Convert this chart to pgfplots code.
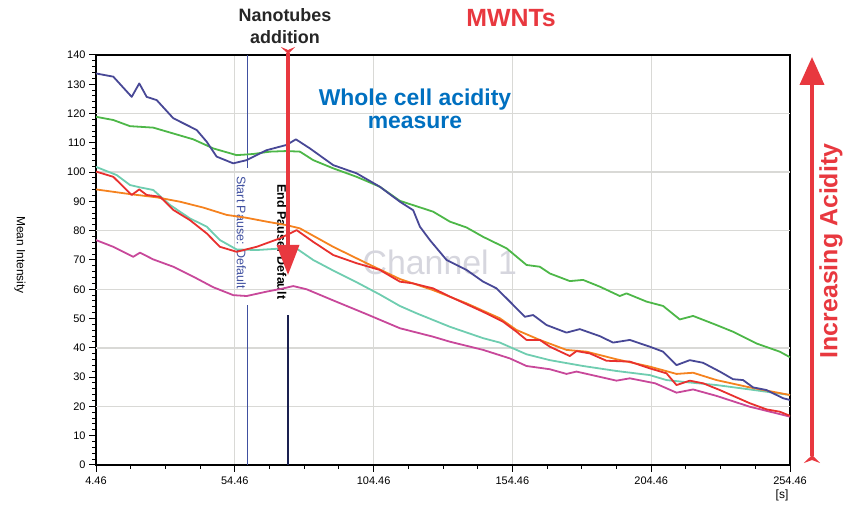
\documentclass[border=0pt]{standalone}
\usepackage{pgfplots}
\pgfplotsset{compat=1.18}
\usepackage{fontspec}
\setmainfont{Liberation Sans}
\usetikzlibrary{arrows.meta}

\definecolor{cNavy}{RGB}{72,72,150}
\definecolor{cGreen}{RGB}{77,183,72}
\definecolor{cTeal}{RGB}{111,205,176}
\definecolor{cRed}{RGB}{232,48,46}
\definecolor{cOrange}{RGB}{245,130,31}
\definecolor{cMagenta}{RGB}{200,72,154}
\definecolor{annRed}{RGB}{232,56,63}
\definecolor{annBlue}{RGB}{0,112,192}
\definecolor{pauseBlue}{RGB}{64,80,160}
\definecolor{pauseDark}{RGB}{26,32,80}
\definecolor{gridGray}{RGB}{217,217,214}
\definecolor{markGray}{RGB}{214,214,222}

\begin{document}
\begin{tikzpicture}
\useasboundingbox (0,0) rectangle (857bp,512bp);
\begin{axis}[
  at={(96bp,47bp)}, anchor=south west,
  scale only axis, width=694bp, height=410bp,
  xmin=4.46, xmax=254.46, ymin=0, ymax=140,
  xtick={4.46,54.46,104.46,154.46,204.46,254.46},
  xticklabels={4.46,54.46,104.46,154.46,204.46,254.46},
  minor x tick num=3,
  ytick={0,10,...,140},
  minor y tick num=4,
  tick pos=left, tick align=outside,
  major tick length=7bp, minor tick length=4bp,
  every tick/.style={black, line width=1bp},
  xmajorgrids=true,
  grid style={gridGray, line width=1.3bp},
  extra y ticks={20,40,60,80,100,120},
  extra y tick labels={,,,,,},
  extra y tick style={grid=major, major tick length=0pt},
  axis line style={black, line width=1.4bp},
  /pgf/number format/assume math mode=true,
  ticklabel style={font=\fontsize{11}{13}\selectfont},
  xticklabel style={yshift=-1bp},
  every axis plot/.append style={line width=1.8bp, line join=round},
]
% faint channel watermark
\node[markGray, font=\fontsize{34}{40}\selectfont] at (axis cs:128.3,69.3) {Channel 1};

% pause markers
\draw[pauseBlue, line width=0.8bp] (axis cs:59.1,140) -- (axis cs:59.1,101.4);
\draw[pauseBlue, line width=0.8bp] (axis cs:59.1,54.6) -- (axis cs:59.1,0);
\node[pauseBlue, rotate=-90, font=\fontsize{12.5}{14}\selectfont] at (axis cs:56.8,79.4) {Start Pause: Default};
\draw[pauseDark, line width=2bp] (axis cs:73.6,51.2) -- (axis cs:73.6,0);
\node[black, rotate=-90, font=\bfseries\fontsize{12.5}{14}\selectfont] at (axis cs:71.4,76.2) {End Pause: Default};

\addplot[cGreen] coordinates {
(4.46,118.9) (10.69,117.8) (16.70,115.7) (25.09,115.2) (32.30,113.2) (39.50,111.2)
(46.70,108.1) (55.13,105.8) (61.10,106.2) (67.12,107.0) (73.13,107.2) (77.92,107.0)
(82.71,104.1) (89.91,101.3) (98.34,98.4) (106.73,95.0) (113.93,90.2) (125.92,86.5)
(131.93,83.1) (137.95,81.1) (143.93,77.9) (152.35,74.0) (159.55,68.3) (164.34,67.7)
(167.94,65.4) (175.14,62.8) (179.93,63.2) (185.94,60.9) (193.15,57.7) (195.56,58.6)
(202.76,55.8) (208.75,54.3) (214.76,49.7) (219.55,50.9) (227.97,47.8) (233.95,45.5)
(242.37,41.5) (250.77,38.7) (254.46,36.8)};

\addplot[cTeal] coordinates {
(4.46,101.8) (11.91,99.0) (16.70,95.6) (20.30,94.8) (25.09,93.9) (31.11,88.8)
(38.31,84.2) (44.32,81.4) (49.11,76.8) (55.13,73.6) (62.33,73.4) (70.72,73.9)
(76.73,73.9) (82.71,70.0) (89.91,66.4) (98.34,62.4) (106.73,58.2) (113.93,54.3)
(119.94,51.8) (131.93,47.2) (143.93,43.3) (149.94,41.8) (159.55,37.8) (167.94,35.8)
(179.93,33.8) (191.96,32.1) (203.95,30.7) (209.97,29.0) (215.95,28.4) (227.97,27.3)
(239.96,25.8) (254.46,23.9)};

\addplot[cMagenta] coordinates {
(4.46,76.8) (10.69,74.5) (17.89,71.1) (20.30,72.5) (25.09,70.2) (32.30,67.7)
(40.72,63.7) (46.70,60.7) (53.90,58.0) (58.73,57.7) (65.93,59.2) (71.91,60.3)
(75.51,61.1) (80.33,60.0) (89.91,56.2) (101.94,51.5) (113.93,46.7) (125.92,43.8)
(131.93,42.1) (143.93,39.3) (153.54,36.4) (159.55,33.8) (167.94,32.7) (173.95,31.1)
(177.55,31.9) (185.94,30.1) (191.96,28.8) (196.75,29.6) (205.87,27.9) (213.57,24.7)
(219.55,25.8) (227.97,23.6) (239.96,19.9) (245.98,18.5) (254.46,16.5)};

\addplot[cOrange] coordinates {
(4.46,94.1) (16.70,92.5) (26.32,91.4) (34.71,89.9) (43.10,87.9) (51.52,85.4)
(58.73,84.4) (65.93,83.1) (73.13,81.9) (77.92,80.8) (89.91,74.5) (101.94,68.9)
(113.93,63.5) (125.92,59.7) (137.95,55.2) (149.94,50.1) (155.95,46.1) (164.34,42.7)
(173.95,39.3) (181.15,38.7) (191.96,36.1) (203.95,33.6) (213.57,31.1) (219.55,31.5)
(227.97,29.0) (239.96,26.5) (254.46,23.9)};

\addplot[cRed] coordinates {
(4.46,100.2) (10.69,98.4) (17.32,92.2) (20.05,94.1) (22.72,92.2) (27.51,91.6)
(32.30,87.1) (38.31,83.6) (44.32,79.1) (49.11,74.5) (55.13,72.8) (62.33,74.5)
(70.72,77.4) (76.73,80.2) (82.71,76.2) (89.91,71.7) (98.34,68.9) (106.73,66.6)
(113.93,62.6) (118.72,62.0) (125.92,60.3) (131.93,57.5) (143.93,52.3) (151.13,48.9)
(155.95,45.5) (159.55,42.7) (164.34,42.7) (167.94,40.4) (175.14,37.2) (177.55,38.9)
(182.34,38.1) (188.35,35.6) (196.75,35.3) (203.95,33.0) (209.97,31.3) (213.57,27.3)
(218.36,28.8) (223.15,27.9) (229.16,25.6) (239.96,21.1) (245.98,19.0) (250.77,18.2)
(254.46,16.8)};

\addplot[cNavy] coordinates {
(4.46,133.7) (10.69,132.6) (17.32,125.7) (20.05,130.3) (22.72,125.7) (26.32,124.6)
(32.30,118.4) (40.72,114.4) (44.32,110.4) (47.92,105.3) (53.90,103.0) (58.73,104.1)
(65.93,107.5) (73.13,109.3) (76.48,111.2) (81.52,108.1) (89.91,102.4) (98.34,99.6)
(106.73,95.0) (113.93,89.9) (118.72,87.0) (121.13,81.4) (124.73,76.8) (130.75,70.0)
(137.95,66.6) (143.93,62.6) (148.75,60.3) (153.54,55.8) (158.94,50.6) (161.93,51.2)
(166.75,47.8) (173.95,45.2) (178.74,46.4) (185.94,44.0) (190.73,41.8) (196.75,42.7)
(203.95,40.4) (208.75,38.7) (213.57,34.1) (218.36,35.8) (223.15,34.9) (229.16,31.9)
(233.95,29.3) (237.55,29.0) (241.15,26.5) (245.98,25.6) (251.95,22.8) (254.46,22.2)};
\end{axis}

% annotations around the plot
\node[font=\bfseries\fontsize{18}{22}\selectfont, align=center, text=black!85] at (285bp,486bp) {Nanotubes\\addition};
\node[font=\bfseries\fontsize{25}{28}\selectfont, text=annRed] at (511bp,494bp) {MWNTs};
\node[font=\bfseries\fontsize{23}{23}\selectfont, align=center, text=annBlue] at (415bp,403bp) {Whole cell acidity\\measure};
\node[rotate=-90, font=\fontsize{12}{14}\selectfont] at (20bp,257bp) {Mean Intensity};
\node[rotate=90, font=\bfseries\fontsize{25}{28}\selectfont, text=annRed] at (831bp,261bp) {Increasing Acidity};
\node[font=\fontsize{12}{14}\selectfont] at (782bp,17bp) {[s]};

% arrows
\draw[annRed, line width=3.5bp,
  arrows={Stealth[reversed, length=7bp, width=14bp, inset=3bp]-Triangle[length=30bp, width=22bp]}]
  (288bp,465bp) -- (288bp,237bp);
\draw[annRed, line width=4bp,
  arrows={Stealth[reversed, length=8bp, width=16bp, inset=3bp]-Triangle[length=28bp, width=24bp]}]
  (812bp,49bp) -- (812bp,455bp);
\end{tikzpicture}
\end{document}
